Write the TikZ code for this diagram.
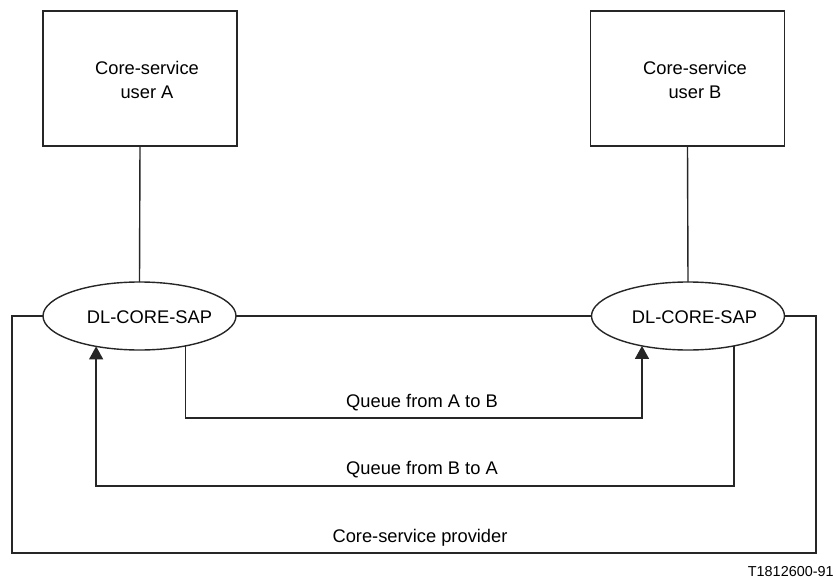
\documentclass[tikz,border=0pt]{standalone}
\usepackage{fontspec}
\setmainfont{Liberation Sans}
\usetikzlibrary{arrows.meta,shapes.geometric}
\begin{document}
\begin{tikzpicture}[x=0.5pt,y=-0.5pt,
  line/.style={line width=0.7pt,draw=black!85},
  userbox/.style={line,rectangle,minimum width=97pt,minimum height=67.5pt,inner sep=0pt,outer sep=0pt},
  sap/.style={line,ellipse,minimum width=96.5pt,minimum height=34pt,inner sep=0pt,outer sep=0pt},
  txt/.style={font=\fontsize{9.15pt}{12pt}\selectfont,inner sep=0pt,align=center},
  small/.style={font=\fontsize{7.2pt}{9pt}\selectfont,inner sep=0pt},
  tip/.style={-{Triangle[width=7pt,length=6.5pt]}}
]
\useasboundingbox (0,0) rectangle (836,578);

% service users
\node[userbox] (userA) at (140,78.5) {};
\node[userbox] (userB) at (687.5,78.5) {};
\node[txt] (userAtxt) at (147,80) {Core-service\\user A};
\node[txt] (userBtxt) at (695,80) {Core-service\\user B};

% service access points
\node[sap] (sapA) at (139.5,316) {};
\node[sap] (sapB) at (688,316) {};
\node[txt] (sapAtxt) at (149.5,317) {DL-CORE-SAP};
\node[txt] (sapBtxt) at (694.5,317) {DL-CORE-SAP};

\draw[line] (userA.south) -- (sapA.north);
\draw[line] (userB.south) -- (sapB.north);

% provider outline
\coordinate (provL) at (12,553);
\coordinate (provR) at (816,553);
\draw[line] (sapA.east) -- (sapB.west);
\draw[line] (sapA.west) -| (provL) -- (provR) |- (sapB.east);

% queues
\coordinate (qab) at (420,418);
\coordinate (qba) at (420,486);
\draw[line,tip] (sapA.-33.4) |- (qab) -| (sapB.-147);
\draw[line,tip] (sapB.-33.7) |- (qba) -| (sapA.-145.9);

% labels
\node[txt] (labAB) at (422,403) {Queue from A to B};
\node[txt] (labBA) at (422,470) {Queue from B to A};
\node[txt] (labProv) at (420,538) {Core-service provider};
\node[small,anchor=east] (figno) at (834,572) {T1812600-91};
\end{tikzpicture}
\end{document}
